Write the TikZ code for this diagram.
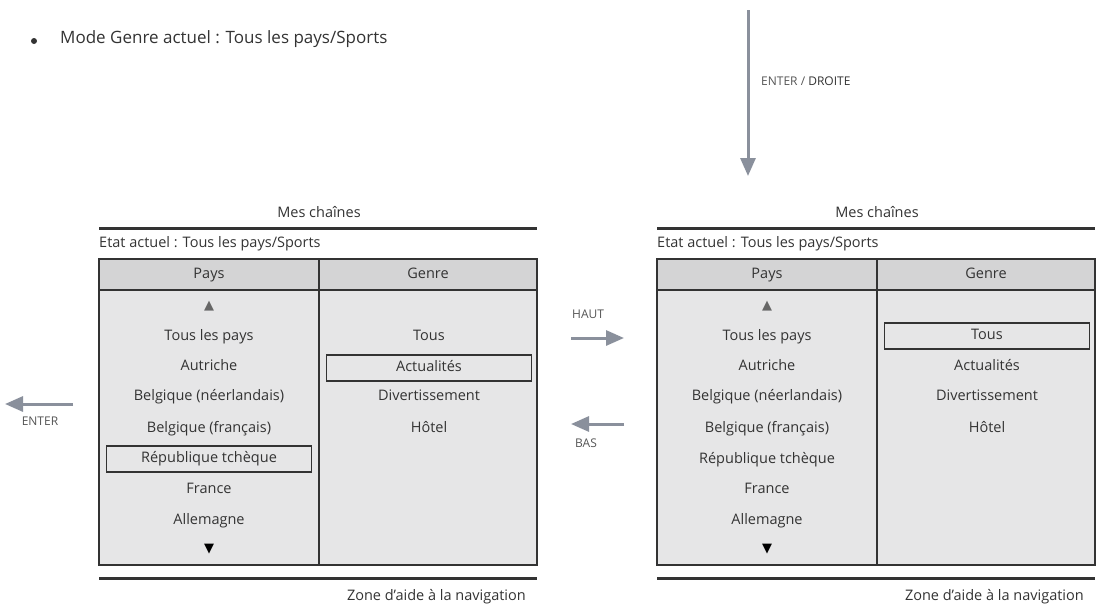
\documentclass[tikz,border=0pt]{standalone}
\usepackage{fontspec}
\setmainfont{Open Sans}
\newfontfamily\symfont{DejaVu Sans}
\usetikzlibrary{arrows.meta}
\definecolor{txt}{HTML}{333333}
\definecolor{arr}{HTML}{8A909C}
\definecolor{hdr}{HTML}{D4D4D5}
\definecolor{bdy}{HTML}{E6E6E7}
\definecolor{lbl}{HTML}{555555}
\tikzset{
  lbltext/.style={font=\fontsize{12}{14}\selectfont, text=lbl, inner sep=0pt, text height=8.5pt, text depth=3pt},
  celltext/.style={font=\fontsize{14.5}{17}\selectfont, text=txt, inner sep=0pt, text height=10.2pt, text depth=4.2pt},
  selbox/.style={celltext, draw=txt, line width=1.2pt, minimum width=205pt, minimum height=26pt},
  navarrow/.style={draw=arr, line width=3pt, -{Triangle[length=18pt,width=15pt]}},
  thickrule/.style={draw=txt, line width=3pt},
  tri/.style={font=\symfont\fontsize{13}{14}\selectfont, inner sep=0pt}
}
\begin{document}
\begin{tikzpicture}[x=1pt,y=-1pt]
\useasboundingbox (0,0) rectangle (1096,606);
% bullet
\node[circle, fill=txt, minimum size=6pt, inner sep=0pt] (bul) at (34,41) {};
\node[font=\fontsize{17}{20}\selectfont, text=txt, inner sep=0pt, text height=12pt, text depth=4.5pt, anchor=west] (mode) at (60,40) {Mode Genre actuel : Tous les pays/Sports};
% top arrow
\coordinate (ts) at (748,10);
\coordinate (te) at (748,176);
\draw[navarrow] (ts) -- (te);
\node[lbltext, anchor=west] (entdr) at (761,83) {ENTER / \textcolor{txt}{DROITE}};

\foreach \p/\xo in {L/99, R/657} {
\begin{scope}[xshift=\xo pt, name prefix=\p-]
  \node[celltext] (title) at (220,214) {Mes chaînes};
  \coordinate (tl) at (0,228); \coordinate (tr) at (438,228);
  \draw[thickrule] (tl) -- (tr);
  \node[celltext, anchor=west] (etat) at (0,244) {Etat actuel : Tous les pays/Sports};
  \fill[hdr] (0,259) rectangle (438,290);
  \fill[bdy] (0,290) rectangle (438,565);
  \draw[txt, line width=1.3pt] (0,259) rectangle (438,565);
  \draw[txt, line width=1.3pt] (0,290) -- (438,290);
  \draw[txt, line width=1.3pt] (220,259) -- (220,565);
  \node[celltext] (pays) at (110,275) {Pays};
  \node[celltext] (genre) at (329,275) {Genre};
  \node[tri, text=black!60] (up) at (110,306) {▲};
  \node[tri, text=black] (down) at (110,549) {▼};
  \coordinate (bl) at (0,578); \coordinate (br) at (438,578);
  \draw[thickrule] (bl) -- (br);
  \node[celltext, anchor=east] (zone) at (427,597) {Zone d'aide à la navigation};
\end{scope}
}

% left panel rows
\begin{scope}[xshift=99pt]
  \node[celltext] (L-c1) at (110,337) {Tous les pays};
  \node[celltext] (L-c2) at (110,367) {Autriche};
  \node[celltext] (L-c3) at (110,397) {Belgique (néerlandais)};
  \node[celltext] (L-c4) at (110,429) {Belgique (français)};
  \node[selbox] (L-c5) at (110,459) {République tchèque};
  \node[celltext] (L-c6) at (110,490) {France};
  \node[celltext] (L-c7) at (110,521) {Allemagne};
  \node[celltext] (L-g1) at (330,337) {Tous};
  \node[selbox] (L-g2) at (330,368) {Actualités};
  \node[celltext] (L-g3) at (330,397) {Divertissement};
  \node[celltext] (L-g4) at (330,429) {Hôtel};
\end{scope}
% right panel rows
\begin{scope}[xshift=657pt]
  \node[celltext] (R-c1) at (110,337) {Tous les pays};
  \node[celltext] (R-c2) at (110,367) {Autriche};
  \node[celltext] (R-c3) at (110,397) {Belgique (néerlandais)};
  \node[celltext] (R-c4) at (110,429) {Belgique (français)};
  \node[celltext] (R-c5) at (110,460) {République tchèque};
  \node[celltext] (R-c6) at (110,490) {France};
  \node[celltext] (R-c7) at (110,521) {Allemagne};
  \node[selbox] (R-g1) at (330,336) {Tous};
  \node[celltext] (R-g2) at (330,367) {Actualités};
  \node[celltext] (R-g3) at (330,397) {Divertissement};
  \node[celltext] (R-g4) at (330,429) {Hôtel};
\end{scope}

% left ENTER arrow
\coordinate (es) at (73,404); \coordinate (ee) at (5,404);
\draw[navarrow] (es) -- (ee);
\node[lbltext] (enter) at (40,423) {ENTER};
% HAUT
\node[lbltext, anchor=west] (haut) at (572,316) {HAUT};
\coordinate (hs) at (571,338); \coordinate (he) at (624,338);
\draw[navarrow] (hs) -- (he);
% BAS
\coordinate (bs) at (624,424); \coordinate (be) at (571,424);
\draw[navarrow] (bs) -- (be);
\node[lbltext, anchor=west] (bas) at (575,445) {BAS};
\end{tikzpicture}
\end{document}
